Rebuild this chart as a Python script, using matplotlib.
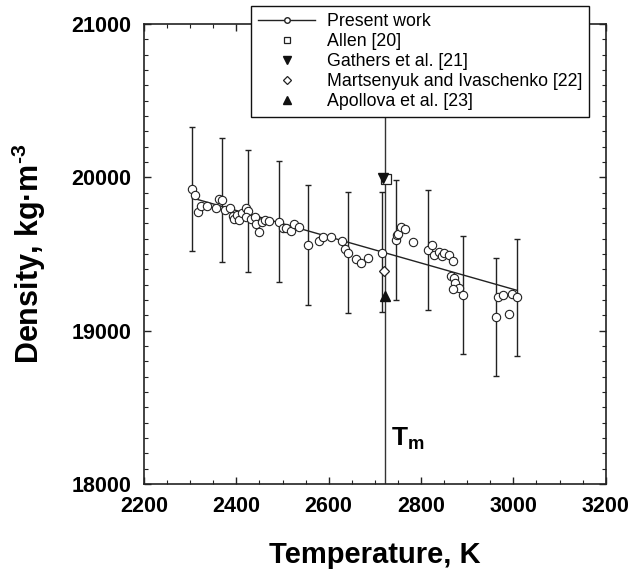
import matplotlib.pyplot as plt
from matplotlib.lines import Line2D
from matplotlib.ticker import MultipleLocator

plt.rcParams['font.family'] = ['Liberation Sans', 'DejaVu Sans']
plt.rcParams['mathtext.fontset'] = 'custom'
plt.rcParams['mathtext.rm'] = 'Liberation Sans'
plt.rcParams['mathtext.bf'] = 'Liberation Sans:bold'

# present work
temp = [2303, 2310, 2316, 2323, 2336, 2356, 2362, 2369, 2376, 2386,
        2392, 2396, 2401, 2406, 2412, 2421, 2426, 2421, 2432, 2440,
        2443, 2448, 2455, 2461, 2471, 2493, 2500, 2507, 2518, 2525,
        2536, 2555, 2579, 2587, 2604, 2629, 2635, 2642, 2659, 2671,
        2685, 2715, 2746, 2747, 2750, 2756, 2765, 2783, 2816, 2824,
        2828, 2839, 2845, 2850, 2860, 2869, 2866, 2871, 2874, 2883,
        2869, 2892, 2962, 2967, 2978, 2990, 2996, 3007]
dens = [19922, 19885, 19776, 19815, 19815, 19798, 19858, 19852, 19787, 19802,
        19748, 19730, 19754, 19721, 19769, 19798, 19780, 19739, 19726, 19739,
        19693, 19645, 19710, 19721, 19713, 19710, 19671, 19671, 19652, 19695,
        19674, 19556, 19584, 19613, 19613, 19586, 19530, 19508, 19469, 19443,
        19474, 19508, 19591, 19624, 19628, 19674, 19665, 19580, 19526, 19558,
        19493, 19515, 19487, 19504, 19493, 19456, 19358, 19341, 19312, 19280,
        19271, 19232, 19089, 19221, 19232, 19110, 19237, 19217]

# error bars
err_t = [2303, 2368, 2425, 2492, 2555, 2642, 2716, 2746, 2816, 2892, 2962, 3007]
err_d = [19922, 19852, 19779, 19710, 19558, 19510, 19512, 19591, 19527, 19232, 19088, 19216]
err_v = [405, 403, 397, 395, 392, 392, 390, 393, 393, 385, 384, 384]

# linear fit line
fit_t = [2305, 3008]
fit_d = [19865, 19263]

# other works at the melting point
allen_t, allen_d = [2724], [19992]
gathers_t, gathers_d = [2718], [19997]
marts_t, marts_d = [2719], [19389]
apoll_t, apoll_d = [2722], [19228]
t_melt = 2722

fig = plt.figure(figsize=(6.3, 5.74), dpi=100)
ax = fig.add_axes([144 / 630, 1 - 484 / 574, 461.7 / 630, 460 / 574])

ax.axvline(t_melt, color='#333333', lw=1.0, zorder=1)
ax.errorbar(err_t, err_d, yerr=err_v, fmt='none', ecolor='#222222',
            elinewidth=1.0, capsize=2.5, capthick=1.0, zorder=2)
ax.plot(fit_t, fit_d, color='#222222', lw=1.0, zorder=3)
ax.plot(temp, dens, 'o', ms=6, mfc='white', mec='#222222', mew=0.8, zorder=4)
ax.plot(allen_t, allen_d, 's', ms=6.5, mfc='white', mec='#222222', mew=0.9, zorder=5)
ax.plot(gathers_t, gathers_d, 'v', ms=7, color='#111111', zorder=6)
ax.plot(marts_t, marts_d, 'D', ms=5, mfc='white', mec='#222222', mew=0.9, zorder=5)
ax.plot(apoll_t, apoll_d, '^', ms=7, color='#111111', zorder=5)

ax.text(t_melt + 13, 18295, r'$\mathbf{T_m}$', fontsize=19, va='center', ha='left')

ax.set_xlim(2200, 3200)
ax.set_ylim(18000, 21000)
ax.xaxis.set_major_locator(MultipleLocator(200))
ax.xaxis.set_minor_locator(MultipleLocator(50))
ax.yaxis.set_major_locator(MultipleLocator(1000))
ax.yaxis.set_minor_locator(MultipleLocator(100))
ax.tick_params(which='both', direction='in', top=True, right=True, color='#222222')
ax.tick_params(which='major', length=5, width=1.0, labelsize=15.5, pad=9)
ax.tick_params(which='minor', length=3, width=0.8)
for lab in ax.get_xticklabels() + ax.get_yticklabels():
    lab.set_fontweight('bold')
for sp in ax.spines.values():
    sp.set_linewidth(1.2)
    sp.set_color('#222222')

ax.set_xlabel('Temperature, K', fontsize=21, fontweight='bold', labelpad=17)
ax.set_ylabel('Density, kg\u00b7m$^{\\mathbf{\u20103}}$', fontsize=22,
              fontweight='bold', labelpad=17)

handles = [
    Line2D([], [], color='#222222', lw=1.0, marker='o', ms=4, mfc='white', mec='#222222'),
    Line2D([], [], ls='none', marker='s', ms=5, mfc='white', mec='#222222', mew=0.9),
    Line2D([], [], ls='none', marker='v', ms=6, color='#111111'),
    Line2D([], [], ls='none', marker='D', ms=4, mfc='white', mec='#222222', mew=0.9),
    Line2D([], [], ls='none', marker='^', ms=6, color='#111111'),
]
labels = ['Present work', 'Allen [20]', 'Gathers et al. [21]',
          'Martsenyuk and Ivaschenko [22]', 'Apollova et al. [23]']
leg = ax.legend(handles, labels, loc='upper left', bbox_to_anchor=(0.2317, 1.039),
                fontsize=12.8, frameon=True, fancybox=False, framealpha=1,
                edgecolor='#111111', handlelength=3.2, handletextpad=0.65,
                labelspacing=0.17, borderpad=0.4, borderaxespad=0)
leg.get_frame().set_linewidth(1.0)
leg.set_zorder(10)

fig.savefig('out.png', dpi=100)
